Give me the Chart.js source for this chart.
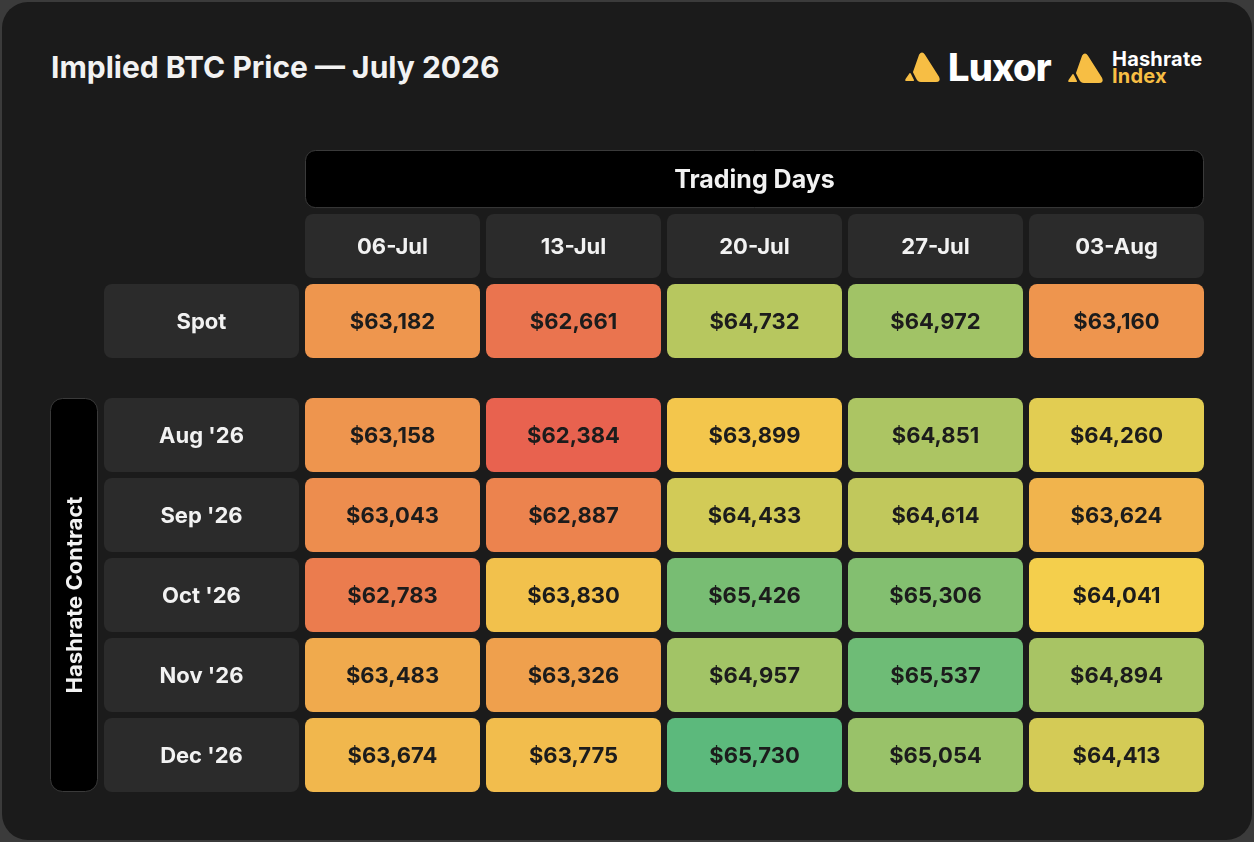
<!DOCTYPE html>
<html>
<head>
<meta charset="utf-8">
<title>Implied BTC Price — July 2026</title>
<script src="https://cdn.jsdelivr.net/npm/chart.js@4.4.1/dist/chart.umd.min.js"></script>
<style>
  html, body { margin: 0; padding: 0; background: #3b3b3b; }
  body { width: 1254px; height: 842px; overflow: hidden; position: relative; font-family: Inter, "Noto Sans", sans-serif; }
  .panel { position: absolute; left: 2px; top: 2px; width: 1250px; height: 838px; border-radius: 26px; background: #1b1b1b; }
  .title { position: absolute; left: 51px; top: 49px; font-size: 30px; font-weight: 700; color: #f2f2f2; letter-spacing: 0; white-space: nowrap; }
  .logo { position: absolute; top: 51px; display: flex; align-items: center; }
  .luxor { left: 904px; }
  .luxor span { font-size: 38px; font-weight: 800; color: #ffffff; margin-left: 8px; letter-spacing: -0.8px; line-height: 32px; }
  .hri { left: 1067px; }
  .hri .words { margin-left: 9px; font-weight: 700; font-size: 20px; line-height: 17px; letter-spacing: 0.2px; }
  .hri .words div:first-child { color: #ffffff; }
  .hri .words div:last-child { color: #f7be44; }
  #chart { position: absolute; left: 0; top: 0; }
</style>
</head>
<body>
<div class="panel"></div>
<div class="title">Implied BTC Price — July 2026</div>
<div class="logo luxor">
  <svg width="36" height="30" viewBox="0 0 36 30">
    <path d="M16 3 Q18 0 20 3 L34 25 Q36 29 32 29 L17 29 Q14 29 13 26 L10 20 Z" fill="#f7be44" stroke="#f7be44" stroke-width="2" stroke-linejoin="round"/>
    <path d="M5 22 Q6 20 7 22 L10 28 Q10.5 29 9 29 L2 29 Q0.5 29 1.5 27 Z" fill="#f7be44"/>
  </svg>
  <span>Luxor</span>
</div>
<div class="logo hri">
  <svg width="36" height="30" viewBox="0 0 36 30">
    <path d="M16 3 Q18 0 20 3 L34 25 Q36 29 32 29 L17 29 Q14 29 13 26 L10 20 Z" fill="#f7be44" stroke="#f7be44" stroke-width="2" stroke-linejoin="round"/>
    <path d="M5 22 Q6 20 7 22 L10 28 Q10.5 29 9 29 L2 29 Q0.5 29 1.5 27 Z" fill="#f7be44"/>
  </svg>
  <div class="words"><div>Hashrate</div><div>Index</div></div>
</div>
<canvas id="chart" width="1254" height="842"></canvas>
<script>
// columns and rows of the table
const tradingDays = ["06-Jul", "13-Jul", "20-Jul", "27-Jul", "03-Aug"];
const contracts = ["Aug '26", "Sep '26", "Oct '26", "Nov '26", "Dec '26"];

// implied BTC price, one array per row
const spot = [63182, 62661, 64732, 64972, 63160];
const aug26 = [63158, 62384, 63899, 64851, 64260];
const sep26 = [63043, 62887, 64433, 64614, 63624];
const oct26 = [62783, 63830, 65426, 65306, 64041];
const nov26 = [63483, 63326, 64957, 65537, 64894];
const dec26 = [63674, 63775, 65730, 65054, 64413];
const contractRows = [aug26, sep26, oct26, nov26, dec26];

// layout on the y axis, in row pitches (spot row starts at 0)
const cellHeight = 0.925;
const contractStart = 1.425;
const headerSpan = [-0.875, -0.075];
const tradingDaysSpan = [-1.675, -0.955];

const allValues = spot.concat(...contractRows);
const minV = Math.min(...allValues);
const maxV = Math.max(...allValues);
const midV = (minV + maxV) / 2;

const lowColor = [232, 98, 79];
const midColor = [244, 208, 76];
const highColor = [92, 185, 124];

function mix(a, b, t) {
  return "rgb(" + a.map((c, i) => Math.round(c + (b[i] - c) * t)).join(",") + ")";
}
function heatColor(v) {
  if (v <= midV) return mix(lowColor, midColor, (v - minV) / (midV - minV));
  return mix(midColor, highColor, (v - midV) / (maxV - midV));
}
function money(v) {
  return "$" + v.toLocaleString("en-US");
}

const cellStyle = {
  borderRadius: 8,
  borderSkipped: false,
  borderWidth: 0,
  inflateAmount: 0,
  grouped: false,
  categoryPercentage: 1,
  barPercentage: 175 / 181,
};

const datasets = [
  {
    ...cellStyle,
    label: "header",
    data: tradingDays.map(() => headerSpan),
    backgroundColor: "#2b2b2b",
    cellText: tradingDays,
    textColor: "#f2f2f2",
  },
  {
    ...cellStyle,
    label: "Spot",
    data: spot.map(() => [0, cellHeight]),
    backgroundColor: spot.map(heatColor),
    cellText: spot.map(money),
    textColor: "#1c1c1c",
  },
];
contractRows.forEach((row, i) => {
  const top = contractStart + i;
  datasets.push({
    ...cellStyle,
    label: contracts[i],
    data: row.map(() => [top, top + cellHeight]),
    backgroundColor: row.map(heatColor),
    cellText: row.map(money),
    textColor: "#1c1c1c",
  });
});

function box(ctx, x0, y0, x1, y1, r, fill, stroke) {
  ctx.beginPath();
  ctx.roundRect(x0, y0, x1 - x0, y1 - y0, r);
  ctx.fillStyle = fill;
  ctx.fill();
  if (stroke) {
    ctx.lineWidth = 1;
    ctx.strokeStyle = stroke;
    ctx.stroke();
  }
}

const tableDecor = {
  id: "tableDecor",
  beforeDatasetsDraw(chart) {
    const { ctx, scales: { y } } = chart;
    const cells = chart.getDatasetMeta(0).data;
    const left = cells[0].x - cells[0].width / 2;
    const right = cells[cells.length - 1].x + cells[0].width / 2;
    ctx.save();
    ctx.textAlign = "center";
    ctx.textBaseline = "middle";

    // trading days banner
    const t0 = y.getPixelForValue(tradingDaysSpan[0]) + 0.5;
    const t1 = y.getPixelForValue(tradingDaysSpan[1]);
    box(ctx, left + 0.5, t0, right - 0.5, t1, 10, "#000000", "#3a3a3a");
    ctx.fillStyle = "#f2f2f2";
    ctx.font = "bold 25px Inter";
    ctx.fillText("Trading Days", (left + right) / 2, (t0 + t1) / 2 + 1);

    // row label boxes
    const rowNames = ["Spot"].concat(contracts);
    const rowTops = [0].concat(contracts.map((c, i) => contractStart + i));
    ctx.font = "bold 22px Inter";
    rowNames.forEach((name, i) => {
      const r0 = y.getPixelForValue(rowTops[i]);
      const r1 = y.getPixelForValue(rowTops[i] + cellHeight);
      box(ctx, left - 201, r0, left - 6, r1, 8, "#2b2b2b");
      ctx.fillStyle = "#f2f2f2";
      ctx.fillText(name, left - 103.5, (r0 + r1) / 2 + 1);
    });

    // hashrate contract side label
    const h0 = y.getPixelForValue(contractStart) + 0.5;
    const h1 = y.getPixelForValue(contractStart + contracts.length - 1 + cellHeight) - 0.5;
    box(ctx, left - 254.5, h0, left - 207.5, h1, 12, "#000000", "#3a3a3a");
    ctx.translate(left - 231, (h0 + h1) / 2);
    ctx.rotate(-Math.PI / 2);
    ctx.fillStyle = "#f2f2f2";
    ctx.font = "bold 22px Inter";
    ctx.fillText("Hashrate Contract", 0, 1);
    ctx.restore();
  },
  afterDatasetsDraw(chart) {
    const { ctx } = chart;
    ctx.save();
    ctx.textAlign = "center";
    ctx.textBaseline = "middle";
    chart.data.datasets.forEach((ds, di) => {
      const meta = chart.getDatasetMeta(di);
      ctx.fillStyle = ds.textColor;
      ctx.font = "bold 22px Inter";
      meta.data.forEach((bar, i) => {
        ctx.fillText(ds.cellText[i], bar.x, (bar.y + bar.base) / 2 + 1);
      });
    });
    ctx.restore();
  },
};

new Chart(document.getElementById("chart"), {
  type: "bar",
  data: { labels: tradingDays, datasets: datasets },
  options: {
    responsive: false,
    animation: false,
    layout: { padding: { left: 302, right: 47, top: 150, bottom: 50 } },
    plugins: {
      legend: { display: false },
      tooltip: { enabled: false },
    },
    scales: {
      x: { display: false, offset: true, grid: { display: false } },
      y: {
        display: false,
        reverse: true,
        min: tradingDaysSpan[0],
        max: contractStart + contracts.length - 1 + cellHeight,
      },
    },
  },
  plugins: [tableDecor],
});
</script>
</body>
</html>
